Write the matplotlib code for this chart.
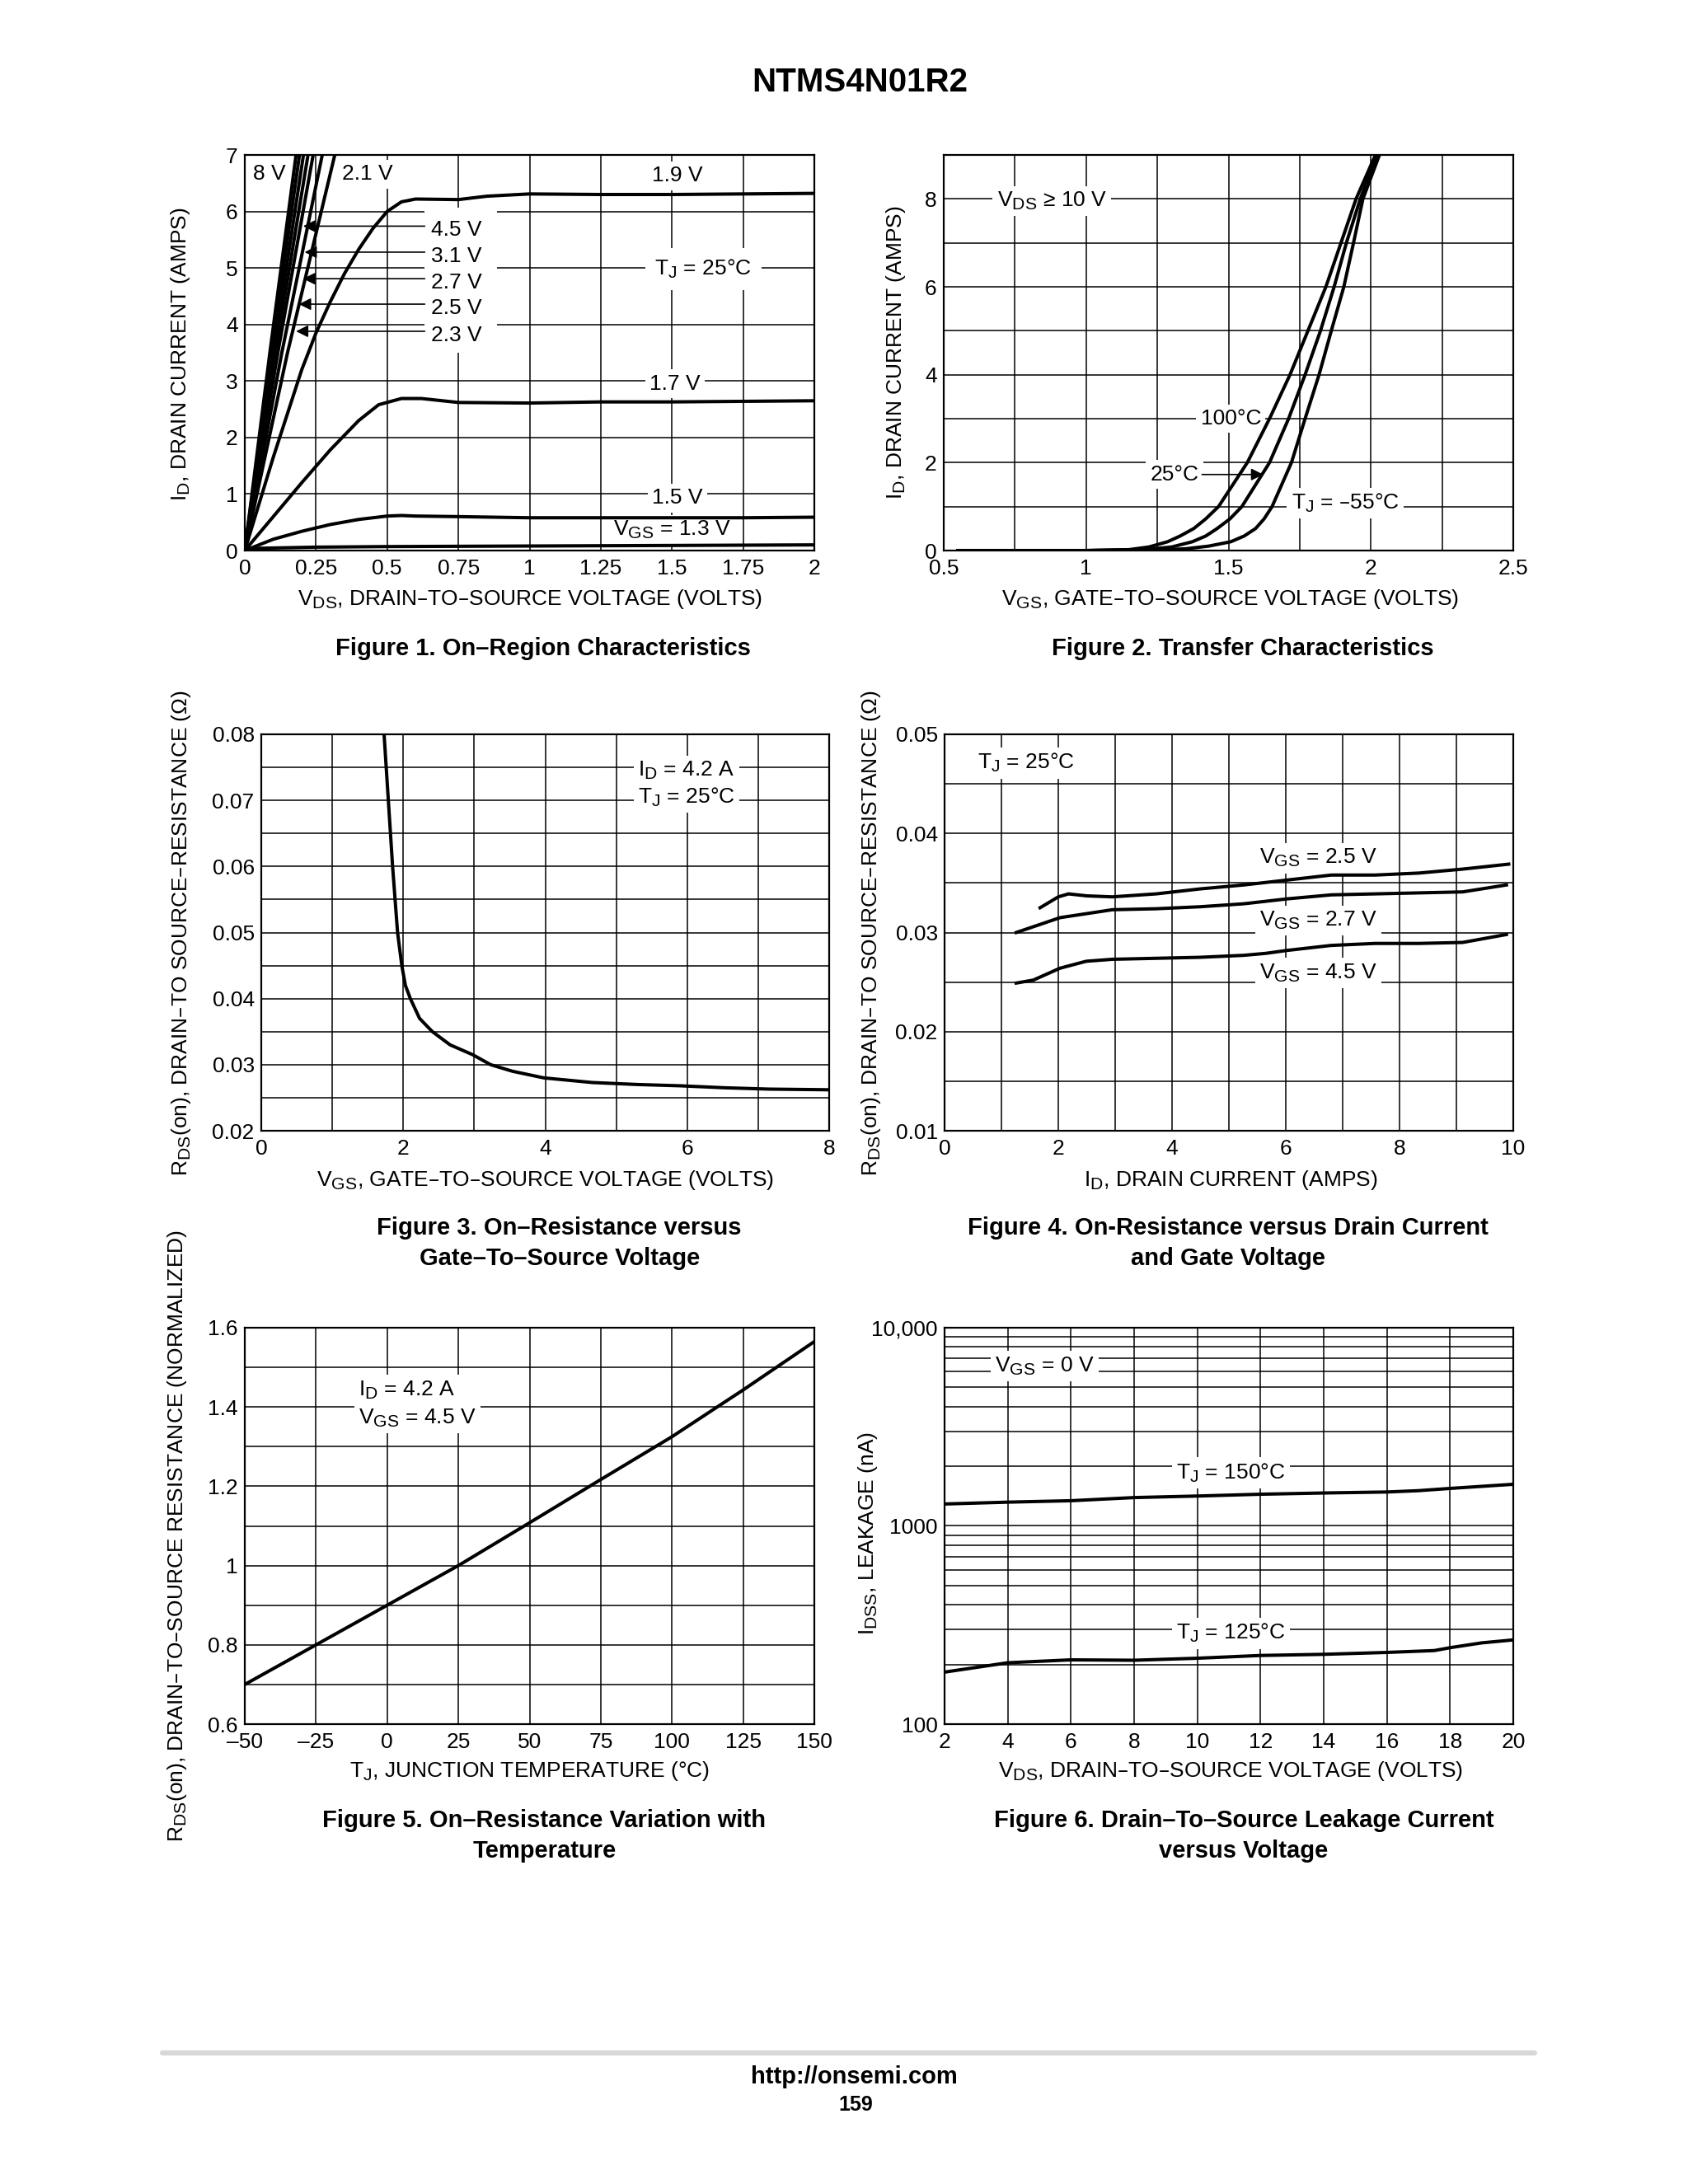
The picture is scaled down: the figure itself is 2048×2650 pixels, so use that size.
import matplotlib
matplotlib.use("Agg")
import matplotlib.pyplot as plt
import matplotlib._mathtext as mathtext_internal
from matplotlib.patches import Rectangle
from matplotlib.lines import Line2D
from matplotlib.ticker import NullFormatter

plt.rcParams['font.family'] = ['Liberation Sans', 'DejaVu Sans']
plt.rcParams['mathtext.default'] = 'regular'
plt.rcParams['axes.linewidth'] = 1.6
# subscripts in the datasheet are only a little smaller than the text
mathtext_internal.SHRINK_FACTOR = 0.8

# ---- Figure 1: on-region characteristics
steep_labels = ['8 V', '4.5 V', '3.1 V', '2.7 V', '2.5 V', '2.3 V', '2.1 V']
steep_id = [0, 3.5, 7.0]
steep_vds = [[0, 0.088, 0.180],
             [0, 0.094, 0.192],
             [0, 0.101, 0.206],
             [0, 0.108, 0.222],
             [0, 0.116, 0.240],
             [0, 0.130, 0.272],
             [0, 0.150, 0.316]]
vds_19 = [0, 0.1, 0.2, 0.25, 0.3, 0.35, 0.4, 0.45, 0.5, 0.55, 0.6, 0.75, 0.85, 1.0, 1.25, 1.5, 1.75, 2.0]
id_19 = [0, 1.65, 3.2, 3.85, 4.4, 4.9, 5.33, 5.7, 6.0, 6.17, 6.22, 6.21, 6.27, 6.31, 6.3, 6.3, 6.31, 6.32]
vds_17 = [0, 0.1, 0.2, 0.3, 0.4, 0.47, 0.55, 0.62, 0.75, 1.0, 1.25, 1.5, 1.75, 2.0]
id_17 = [0, 0.6, 1.2, 1.78, 2.3, 2.58, 2.69, 2.69, 2.62, 2.61, 2.63, 2.63, 2.64, 2.65]
vds_15 = [0, 0.1, 0.2, 0.3, 0.4, 0.5, 0.55, 0.6, 0.75, 1.0, 1.25, 1.5, 1.75, 2.0]
id_15 = [0, 0.2, 0.34, 0.46, 0.55, 0.61, 0.62, 0.61, 0.6, 0.58, 0.58, 0.58, 0.58, 0.59]
vds_13 = [0, 0.05, 0.25, 0.5, 1.0, 1.5, 2.0]
id_13 = [0, 0.04, 0.06, 0.07, 0.08, 0.09, 0.1]

# ---- Figure 2: transfer characteristics
vgs_100 = [0.55, 1.0, 1.15, 1.22, 1.286, 1.33, 1.378, 1.42, 1.465, 1.566, 1.644, 1.716, 1.779, 1.842, 1.895, 1.948, 2.016]
id_100 = [0, 0, 0.02, 0.08, 0.2, 0.33, 0.5, 0.72, 1, 2, 3, 4, 5, 6, 7, 8, 9]
vgs_25 = [0.55, 1.0, 1.2, 1.3, 1.373, 1.42, 1.46, 1.505, 1.547, 1.644, 1.711, 1.769, 1.823, 1.871, 1.914, 1.963, 2.02]
id_25 = [0, 0, 0.02, 0.08, 0.2, 0.33, 0.5, 0.72, 1, 2, 3, 4, 5, 6, 7, 8, 9]
vgs_m55 = [0.55, 1.0, 1.25, 1.35, 1.43, 1.508, 1.555, 1.595, 1.625, 1.653, 1.721, 1.769, 1.818, 1.861, 1.905, 1.939, 1.972, 2.03]
id_m55 = [0, 0, 0.01, 0.04, 0.1, 0.2, 0.33, 0.5, 0.72, 1, 2, 3, 4, 5, 6, 7, 8, 9]

# ---- Figure 3: on-resistance vs gate voltage
vgs_f3 = [1.73, 1.79, 1.85, 1.92, 1.98, 2.03, 2.1, 2.23, 2.41, 2.66, 2.98, 3.23, 3.54, 3.98, 4.66, 5.29, 5.91, 6.53, 7.16, 8.0]
rds_f3 = [0.08, 0.07, 0.06, 0.05, 0.045, 0.042, 0.04, 0.037, 0.035, 0.033, 0.0315, 0.030, 0.029, 0.028,
          0.0273, 0.027, 0.0268, 0.0265, 0.0263, 0.0262]

# ---- Figure 4: on-resistance vs drain current
id_25v = [1.68, 2.0, 2.18, 2.5, 2.95, 3.72, 4.49, 5.26, 6.03, 6.8, 7.57, 8.34, 9.11, 9.92]
rds_25v = [0.0325, 0.0336, 0.0339, 0.0337, 0.0336, 0.0339, 0.0344, 0.0348, 0.0353, 0.0358, 0.0358, 0.036, 0.0364, 0.0369]
id_27v = [1.26, 2.03, 2.95, 3.72, 4.49, 5.26, 6.03, 6.8, 7.57, 8.34, 9.11, 9.88]
rds_27v = [0.0300, 0.0315, 0.0323, 0.0324, 0.0326, 0.0329, 0.0334, 0.0338, 0.0339, 0.034, 0.0341, 0.0348]
id_45v = [1.26, 1.56, 2.03, 2.49, 2.95, 4.49, 5.26, 5.65, 6.03, 6.8, 7.57, 8.34, 9.11, 9.88]
rds_45v = [0.0249, 0.0252, 0.0264, 0.0271, 0.0273, 0.0275, 0.0277, 0.0279, 0.0282, 0.0287, 0.0289, 0.0289, 0.029, 0.0298]

# ---- Figure 5: normalized on-resistance vs temperature
tj_f5 = [-50, -25, 0, 25, 50, 75, 100, 125, 150]
rn_f5 = [0.70, 0.80, 0.90, 1.00, 1.108, 1.217, 1.325, 1.443, 1.565]

# ---- Figure 6: leakage current vs voltage
vds_150 = [2, 4, 6, 8, 10, 12, 14, 16, 17, 18, 20]
idss_150 = [1290, 1318, 1340, 1390, 1415, 1445, 1466, 1483, 1506, 1546, 1622]
vds_125 = [2, 4, 6, 8, 10, 12, 14, 16, 17.5, 18, 19, 20]
idss_125 = [183, 204, 211, 210, 215, 222, 225, 230, 235, 243, 257, 266]

W, H = 2048, 2650
fig = plt.figure(figsize=(W / 100, H / 100), dpi=100)
LW = 2.9
FS = 19
TZ = 1.5  # label boxes hide the grid but not the curves
box = dict(boxstyle='square,pad=0.2', fc='white', ec='none')


def fx(x):
    return x / W


def fy(y):
    return 1 - y / H


def make_axes(l, t, r, b):
    return fig.add_axes([fx(l), fy(b), (r - l) / W, (b - t) / H])


def setup(ax, xlim, ylim, xmaj, xlab, ymaj, ylab, xmin=(), ymin=()):
    ax.set_xlim(xlim)
    ax.set_ylim(ylim)
    ax.set_xticks(xmaj)
    ax.set_xticklabels(xlab)
    ax.set_yticks(ymaj)
    ax.set_yticklabels(ylab)
    ax.set_xticks(xmin, minor=True)
    ax.set_yticks(ymin, minor=True)
    ax.yaxis.set_minor_formatter(NullFormatter())
    ax.grid(True, which='both', color='black', lw=1.1)
    ax.set_axisbelow(True)
    ax.tick_params(which='both', length=0, labelsize=FS)
    ax.tick_params(axis='x', pad=7)
    ax.tick_params(axis='y', pad=6)


def tag(ax, x, y, txt, ha='center', bbox=box):
    ax.text(x, y, txt, ha=ha, va='center', fontsize=FS, bbox=bbox, zorder=TZ)


def label(txt, x, y, rot=0, **kw):
    fig.text(fx(x), fy(y), txt, ha='center', va='center', rotation=rot, fontsize=FS, **kw)


def caption(txt, x, y):
    fig.text(fx(x), fy(y), txt, ha='center', va='center', fontsize=21, fontweight='bold')


fig.text(fx(1043), fy(100), 'NTMS4N01R2', ha='center', va='center', fontsize=29, fontweight='bold')

# Figure 1
ax1 = make_axes(297, 188, 988, 668)
setup(ax1, (0, 2), (0, 7), [0, 0.25, 0.5, 0.75, 1, 1.25, 1.5, 1.75, 2],
      ['0', '0.25', '0.5', '0.75', '1', '1.25', '1.5', '1.75', '2'],
      range(8), [str(v) for v in range(8)])
for xs in steep_vds:
    ax1.plot(xs, steep_id, color='black', lw=LW)
ax1.plot(vds_19, id_19, color='black', lw=LW)
ax1.plot(vds_17, id_17, color='black', lw=LW)
ax1.plot(vds_15, id_15, color='black', lw=LW)
ax1.plot(vds_13, id_13, color='black', lw=LW)
ax1.add_patch(Rectangle((0.632, 3.5), 0.253, 2.56, fc='white', ec='none', zorder=1))
arrow_y = [5.74, 5.28, 4.81, 4.36, 3.88]
arrow_tip = [0.205, 0.21, 0.205, 0.19, 0.18]
for name, yy, tip in zip(steep_labels[1:6], arrow_y, arrow_tip):
    ax1.annotate('', xy=(tip, yy), xytext=(0.632, yy),
                 arrowprops=dict(arrowstyle='-|>', color='black', lw=1.2, mutation_scale=22,
                                 shrinkA=0, shrinkB=0))
    ax1.text(0.655, yy - 0.07, name, ha='left', va='center', fontsize=FS)
ax1.text(0.03, 6.66, steep_labels[0], ha='left', va='center', fontsize=FS)
tag(ax1, 0.43, 6.66, steep_labels[6])
tag(ax1, 1.52, 6.63, '1.9 V')
tag(ax1, 1.61, 4.98, 'T$_J$ = 25°C', bbox=dict(boxstyle='square,pad=0.45', fc='white', ec='none'))
tag(ax1, 1.51, 2.95, '1.7 V')
tag(ax1, 1.52, 0.93, '1.5 V')
tag(ax1, 1.50, 0.36, 'V$_{GS}$ = 1.3 V')
label('I$_D$, DRAIN CURRENT (AMPS)', 219, 430, rot=90)
label('V$_{DS}$, DRAIN–TO–SOURCE VOLTAGE (VOLTS)', 643, 727)
caption('Figure 1. On–Region Characteristics', 659, 787)

# Figure 2
ax2 = make_axes(1145, 188, 1836, 668)
setup(ax2, (0.5, 2.5), (0, 9), [0.5, 1, 1.5, 2, 2.5], ['0.5', '1', '1.5', '2', '2.5'],
      [0, 2, 4, 6, 8], ['0', '2', '4', '6', '8'],
      xmin=[0.75, 1.25, 1.75, 2.25], ymin=[1, 3, 5, 7])
ax2.plot(vgs_100, id_100, color='black', lw=LW)
ax2.plot(vgs_25, id_25, color='black', lw=LW)
ax2.plot(vgs_m55, id_m55, color='black', lw=LW)
tag(ax2, 0.88, 7.95, 'V$_{DS}$ ≥ 10 V')
tag(ax2, 1.508, 3.0, '100°C')
tag(ax2, 1.31, 1.73, '25°C')
ax2.annotate('', xy=(1.622, 1.73), xytext=(1.407, 1.73),
             arrowprops=dict(arrowstyle='-|>', color='black', lw=1.2, mutation_scale=22,
                             shrinkA=0, shrinkB=0))
tag(ax2, 1.91, 1.08, 'T$_J$ = –55°C')
label('I$_D$, DRAIN CURRENT (AMPS)', 1087, 428, rot=90)
label('V$_{GS}$, GATE–TO–SOURCE VOLTAGE (VOLTS)', 1493, 727)
caption('Figure 2. Transfer Characteristics', 1508, 787)

# Figure 3
ax3 = make_axes(317, 891, 1006, 1372)
setup(ax3, (0, 8), (0.02, 0.08), [0, 2, 4, 6, 8], ['0', '2', '4', '6', '8'],
      [0.02, 0.03, 0.04, 0.05, 0.06, 0.07, 0.08], ['0.02', '0.03', '0.04', '0.05', '0.06', '0.07', '0.08'],
      xmin=[1, 3, 5, 7], ymin=[0.025, 0.035, 0.045, 0.055, 0.065, 0.075])
ax3.plot(vgs_f3, rds_f3, color='black', lw=LW)
tag(ax3, 5.99, 0.0745, 'I$_D$ = 4.2 A')
tag(ax3, 5.99, 0.0705, 'T$_J$ = 25°C')
label('R$_{DS}$(on), DRAIN–TO SOURCE–RESISTANCE (Ω)', 220, 1132, rot=90)
label('V$_{GS}$, GATE–TO–SOURCE VOLTAGE (VOLTS)', 662, 1432)
caption('Figure 3. On–Resistance versus', 678, 1490)
caption('Gate–To–Source Voltage', 679, 1527)

# Figure 4
ax4 = make_axes(1146, 891, 1836, 1372)
setup(ax4, (0, 10), (0.01, 0.05), [0, 2, 4, 6, 8, 10], ['0', '2', '4', '6', '8', '10'],
      [0.01, 0.02, 0.03, 0.04, 0.05], ['0.01', '0.02', '0.03', '0.04', '0.05'],
      xmin=[1, 3, 5, 7, 9], ymin=[0.015, 0.025, 0.035, 0.045])
ax4.plot(id_25v, rds_25v, color='black', lw=LW)
ax4.plot(id_27v, rds_27v, color='black', lw=LW)
ax4.plot(id_45v, rds_45v, color='black', lw=LW)
tag(ax4, 1.43, 0.0471, 'T$_J$ = 25°C')
tag(ax4, 6.57, 0.0375, 'V$_{GS}$ = 2.5 V')
tag(ax4, 6.57, 0.0312, 'V$_{GS}$ = 2.7 V')
tag(ax4, 6.57, 0.0259, 'V$_{GS}$ = 4.5 V')
label('R$_{DS}$(on), DRAIN–TO SOURCE–RESISTANCE (Ω)', 1057, 1132, rot=90)
label('I$_D$, DRAIN CURRENT (AMPS)', 1493, 1432)
caption('Figure 4. On-Resistance versus Drain Current', 1490, 1490)
caption('and Gate Voltage', 1490, 1527)

# Figure 5
ax5 = make_axes(297, 1611, 988, 2092)
setup(ax5, (-50, 150), (0.6, 1.6), [-50, -25, 0, 25, 50, 75, 100, 125, 150],
      ['–50', '–25', '0', '25', '50', '75', '100', '125', '150'],
      [0.6, 0.8, 1.0, 1.2, 1.4, 1.6], ['0.6', '0.8', '1', '1.2', '1.4', '1.6'],
      ymin=[0.7, 0.9, 1.1, 1.3, 1.5])
ax5.plot(tj_f5, rn_f5, color='black', lw=LW)
tag(ax5, -10, 1.443, 'I$_D$ = 4.2 A', ha='left')
tag(ax5, -10, 1.372, 'V$_{GS}$ = 4.5 V', ha='left')
label('R$_{DS}$(on), DRAIN–TO–SOURCE RESISTANCE (NORMALIZED)', 215, 1864, rot=90)
label('T$_J$, JUNCTION TEMPERATURE (°C)', 643, 2149)
caption('Figure 5. On–Resistance Variation with', 660, 2209)
caption('Temperature', 661, 2246)

# Figure 6
ax6 = make_axes(1146, 1611, 1836, 2092)
ax6.set_yscale('log')
setup(ax6, (2, 20), (100, 10000), list(range(2, 21, 2)), [str(v) for v in range(2, 21, 2)],
      [100, 1000, 10000], ['100', '1000', '10,000'],
      ymin=[m * d for d in (100, 1000) for m in range(2, 10)])
ax6.plot(vds_150, idss_150, color='black', lw=LW)
ax6.plot(vds_125, idss_125, color='black', lw=LW)
tag(ax6, 5.16, 6400, 'V$_{GS}$ = 0 V')
tag(ax6, 11.06, 1850, 'T$_J$ = 150°C')
tag(ax6, 11.06, 287, 'T$_J$ = 125°C')
label('I$_{DSS}$, LEAKAGE (nA)', 1053, 1860, rot=90)
label('V$_{DS}$, DRAIN–TO–SOURCE VOLTAGE (VOLTS)', 1493, 2149)
caption('Figure 6. Drain–To–Source Leakage Current', 1509, 2209)
caption('versus Voltage', 1509, 2246)

# footer
fig.add_artist(Line2D([fx(197), fx(1862)], [fy(2491), fy(2491)], color='#d8d8d8', lw=4.5,
                      solid_capstyle='round'))
fig.text(fx(1036), fy(2520), 'http://onsemi.com', ha='center', va='center', fontsize=21, fontweight='bold')
fig.text(fx(1038), fy(2554), '159', ha='center', va='center', fontsize=18, fontweight='bold')

fig.savefig('out.png', dpi=100, facecolor='white')
